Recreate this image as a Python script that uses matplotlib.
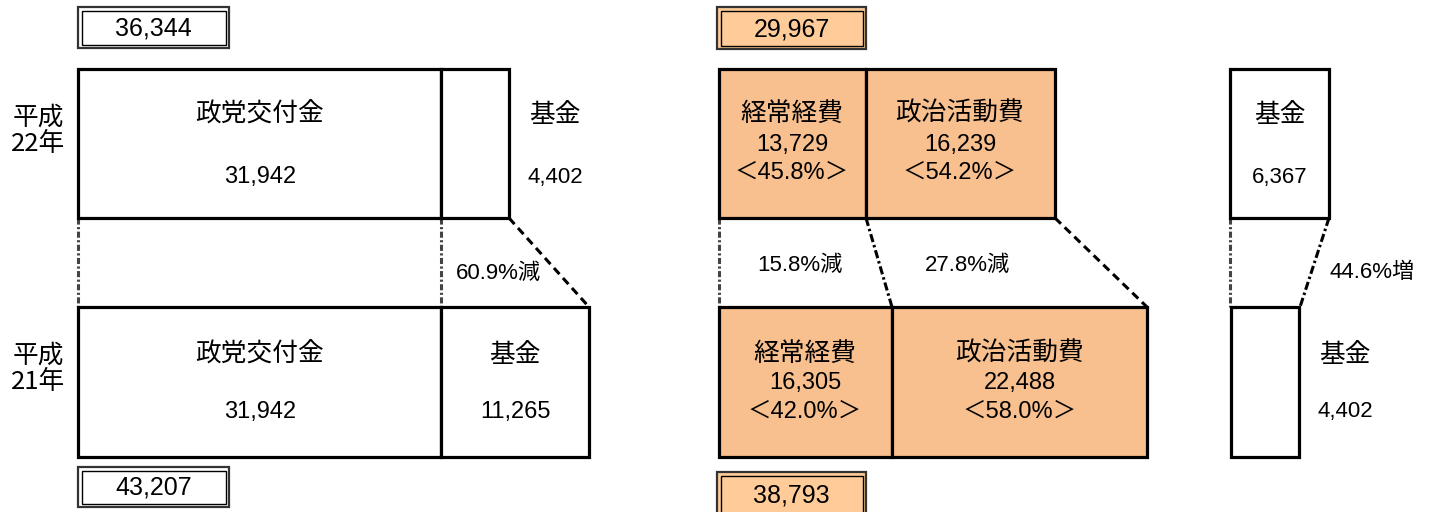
import matplotlib
matplotlib.use("Agg")
import matplotlib.pyplot as plt
from matplotlib.patches import Rectangle

# ---- data --------------------------------------------------------------
years = ["平成\n22年", "平成\n21年"]
income_labels = ["政党交付金", "基金"]
income_h22 = [31942, 4402]
income_h21 = [31942, 11265]
income_totals = [36344, 43207]
expense_labels = ["経常経費", "政治活動費"]
expense_h22 = [13729, 16239]
expense_h21 = [16305, 22488]
expense_totals = [29967, 38793]
fund_label = "基金"
fund_h22 = 6367
fund_h21 = 4402

# ---- fonts -------------------------------------------------------------
JP = "Noto Sans CJK JP"
F_NUM = ["Liberation Sans", JP]
F_JP = [JP, "DejaVu Sans"]
JP_SIZE = 18.5

ORANGE = "#F8BF8F"
ORANGE_LT = "#FFCC99"

fig = plt.figure(figsize=(14.3, 5.12), dpi=100)
ax = fig.add_axes([0, 0, 1, 1])
ax.set_xlim(0, 1430)
ax.set_ylim(512, 0)
ax.axis("off")

# layout (pixel units)
TOP = (69, 218)
BOT = (307, 457)


def box(x0, x1, y, fc="white"):
    ax.add_patch(Rectangle((x0, y[0]), x1 - x0, y[1] - y[0], fc=fc, ec="black", lw=2.3, zorder=2))


def total_box(x0, x1, y0, y1, value, fc):
    ax.add_patch(Rectangle((x0, y0), x1 - x0, y1 - y0, fc=fc, ec="#333333", lw=1.6, zorder=2))
    ax.add_patch(Rectangle((x0 + 3.5, y0 + 3.5), x1 - x0 - 7, y1 - y0 - 7, fc="none", ec="black", lw=1.0, zorder=3))
    ax.text((x0 + x1) / 2, (y0 + y1) / 2 + 1, f"{value:,}", ha="center", va="center",
            fontsize=18, family=F_NUM, zorder=4)


def txt(x, y, s, fam=F_NUM, size=17, **kw):
    ax.text(x, y, s, ha="center", va="center", fontsize=size, family=fam, zorder=4, **kw)


def jp(x, y, s):
    txt(x, y, s, fam=F_JP, size=JP_SIZE)


def link(x0, x1, style, color="black"):
    ax.plot([x0, x1], [TOP[1], BOT[0]], color=color, lw=2.2, linestyle=style, zorder=1)


GRAY_DD = (0, (2, 0.8, 0.7, 0.8))
DASHDOT = (0, (2.7, 1, 0.8, 1))
DASHED = (0, (2.7, 1.7))

# year labels
txt(38, 131, years[0], fam=F_JP, size=JP_SIZE, linespacing=1.0)
txt(38, 369, years[1], fam=F_JP, size=JP_SIZE, linespacing=1.0)

# ---- income ------------------------------------------------------------
total_box(78, 229, 7, 48, income_totals[0], "white")
total_box(78, 229, 467, 507, income_totals[1], "white")

box(78, 441, TOP)
box(441, 509, TOP)
jp(260, 115, income_labels[0])
txt(260, 177, f"{income_h22[0]:,}")
jp(555, 115, income_labels[1])
txt(555, 177, f"{income_h22[1]:,}", size=16)

box(78, 441, BOT)
box(441, 589, BOT)
jp(260, 355, income_labels[0])
txt(260, 412, f"{income_h21[0]:,}")
jp(515, 355, income_labels[1])
txt(515, 412, f"{income_h21[1]:,}")

link(78, 78, GRAY_DD, "#444444")
link(441, 441, GRAY_DD, "#444444")
link(509, 589, DASHED)
chg = (income_h21[1] - income_h22[1]) / income_h21[1] * 100
txt(498, 273, f"{chg:.1f}%減", size=16)

# ---- expenses ----------------------------------------------------------
total_box(717, 866, 7, 49, expense_totals[0], ORANGE_LT)
total_box(717, 866, 472, 516, expense_totals[1], ORANGE_LT)

box(719, 866, TOP, ORANGE)
box(866, 1055, TOP, ORANGE)
box(719, 892, BOT, ORANGE)
box(892, 1147, BOT, ORANGE)

for xc, lab, v in zip([792, 960], expense_labels, expense_h22):
    jp(xc, 114, lab)
    txt(xc, 145, f"{v:,}")
    txt(xc, 173, f"＜{v / expense_totals[0] * 100:.1f}%＞")
for xc, lab, v in zip([805, 1020], expense_labels, expense_h21):
    jp(xc, 354, lab)
    txt(xc, 383, f"{v:,}")
    txt(xc, 412, f"＜{v / expense_totals[1] * 100:.1f}%＞")

link(719, 719, GRAY_DD, "#444444")
link(866, 892, DASHDOT)
link(1055, 1147, DASHED)
for xc, a, b in zip([800, 968], expense_h22, expense_h21):
    txt(xc, 265, f"{(b - a) / b * 100:.1f}%減", size=16)

# ---- fund --------------------------------------------------------------
box(1230, 1329, TOP)
box(1231, 1299, BOT)
jp(1280, 115, fund_label)
txt(1280, 177, f"{fund_h22:,}", size=16)
jp(1345, 355, fund_label)
txt(1345, 412, f"{fund_h21:,}", size=16)
link(1230, 1230, GRAY_DD, "#444444")
link(1329, 1300, DASHDOT)
txt(1372, 273, f"{(fund_h22 - fund_h21) / fund_h21 * 100:.1f}%増", size=16)

fig.savefig("out.png", dpi=100)
